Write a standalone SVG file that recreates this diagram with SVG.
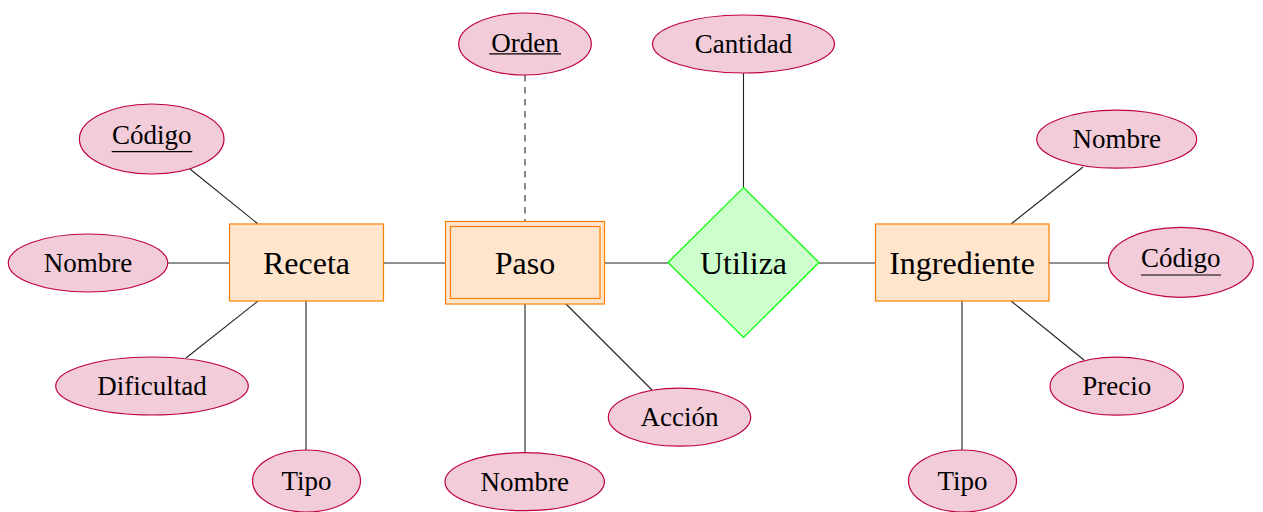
<svg xmlns="http://www.w3.org/2000/svg" width="1263" height="512" viewBox="0 0 1263 512">
<style>
.attr{fill:#f2ccd9;stroke:#bf0040;stroke-width:1.2}
.ent{fill:#ffe5cc;stroke:#ff8000;stroke-width:1.2}
.rel{fill:#ccffcc;stroke:#00ff00;stroke-width:1.2}
.ta{font-size:27px;fill:#000;text-anchor:middle}
.te{font-size:32px;fill:#000;text-anchor:middle}
.c{stroke:#222;stroke-width:1.1;fill:none}
.d{stroke:#555;stroke-width:1.4;stroke-dasharray:6.5 5.5;fill:none}
.u{stroke:#000;stroke-width:1.2}
</style>
<rect width="1263" height="512" fill="#fff"/>
<g id="connectors">
<line class="c" x1="190" y1="169" x2="258" y2="224"/>
<line class="c" x1="168" y1="263" x2="229.5" y2="263"/>
<line class="c" x1="258" y1="301" x2="186" y2="358"/>
<line class="c" x1="306" y1="301" x2="306" y2="450"/>
<line class="c" x1="383.5" y1="263" x2="445.5" y2="263"/>
<line class="d" x1="525" y1="75" x2="525" y2="221.5"/>
<line class="c" x1="525" y1="304" x2="525" y2="452.7"/>
<line class="c" x1="564" y1="302" x2="652" y2="390"/>
<line class="c" x1="604.5" y1="263" x2="668" y2="263"/>
<line class="c" x1="743.5" y1="73" x2="743.5" y2="187.5"/>
<line class="c" x1="819" y1="263" x2="875.5" y2="263"/>
<line class="c" x1="1083" y1="167" x2="1011" y2="224"/>
<line class="c" x1="1049" y1="263" x2="1108.3" y2="263"/>
<line class="c" x1="1011" y1="301" x2="1084" y2="360"/>
<line class="c" x1="962" y1="301" x2="962" y2="450"/>
</g>
<g font-family="'Liberation Serif', 'DejaVu Serif', serif">
<g id="receta"><rect class="ent" x="229.5" y="224" width="154" height="77"/><text class="te" x="306.5" y="273.5">Receta</text></g>
<g id="paso"><rect class="ent" x="445.5" y="221.5" width="159" height="82.5"/><rect class="ent" x="450.5" y="226.5" width="149.5" height="72"/><text class="te" x="525" y="273.5">Paso</text></g>
<g id="utiliza"><polygon class="rel" points="743.5,187.5 819,262.5 743.5,337.5 668,262.5"/><text class="te" x="743.5" y="273.5">Utiliza</text></g>
<g id="ingrediente"><rect class="ent" x="875.5" y="224" width="173.5" height="77"/><text class="te" x="962" y="273.5">Ingrediente</text></g>
<g id="receta-codigo"><ellipse class="attr" cx="151.7" cy="139" rx="72.3" ry="35"/><text class="ta" x="151.7" y="143.5">Código</text><line class="u" x1="111.7" y1="151.7" x2="192.3" y2="151.7"/></g>
<g id="receta-nombre"><ellipse class="attr" cx="88" cy="263" rx="79.7" ry="29"/><text class="ta" x="88" y="272">Nombre</text></g>
<g id="receta-dificultad"><ellipse class="attr" cx="152" cy="386" rx="96.3" ry="29"/><text class="ta" x="152" y="395">Dificultad</text></g>
<g id="receta-tipo"><ellipse class="attr" cx="306.5" cy="481" rx="54" ry="31"/><text class="ta" x="306.5" y="490">Tipo</text></g>
<g id="paso-orden"><ellipse class="attr" cx="525" cy="44" rx="66.3" ry="31"/><text class="ta" x="525" y="51.7">Orden</text><line class="u" x1="489.3" y1="53.8" x2="561" y2="53.8"/></g>
<g id="paso-nombre"><ellipse class="attr" cx="524.7" cy="481.7" rx="79.7" ry="29"/><text class="ta" x="524.7" y="490.7">Nombre</text></g>
<g id="paso-accion"><ellipse class="attr" cx="679.5" cy="417.2" rx="71.2" ry="29"/><text class="ta" x="679.5" y="426.2">Acción</text></g>
<g id="utiliza-cantidad"><ellipse class="attr" cx="743.5" cy="44" rx="91" ry="29"/><text class="ta" x="743.5" y="53">Cantidad</text></g>
<g id="ingrediente-nombre"><ellipse class="attr" cx="1116.7" cy="139.2" rx="80" ry="29"/><text class="ta" x="1116.7" y="148.2">Nombre</text></g>
<g id="ingrediente-codigo"><ellipse class="attr" cx="1180.8" cy="262.3" rx="72.5" ry="35"/><text class="ta" x="1180.8" y="266.8">Código</text><line class="u" x1="1141" y1="275" x2="1221" y2="275"/></g>
<g id="ingrediente-precio"><ellipse class="attr" cx="1116.7" cy="386.2" rx="66.7" ry="29"/><text class="ta" x="1116.7" y="395.2">Precio</text></g>
<g id="ingrediente-tipo"><ellipse class="attr" cx="962.5" cy="481" rx="54" ry="31"/><text class="ta" x="962.5" y="490">Tipo</text></g>
</g>
</svg>
